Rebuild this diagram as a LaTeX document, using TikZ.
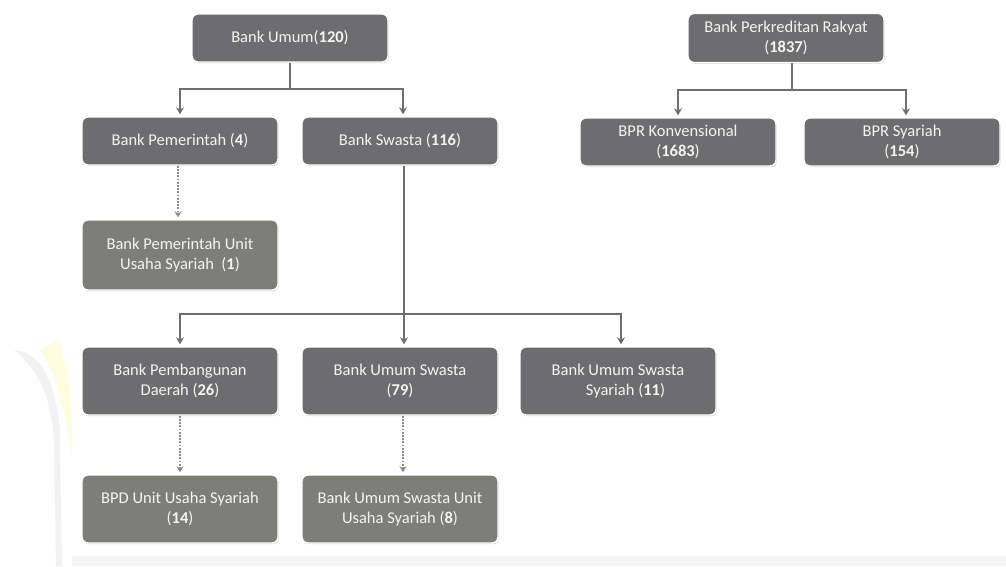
\documentclass[tikz,border=0pt]{standalone}
\usepackage{fontspec}
\setmainfont{Carlito}
\usetikzlibrary{arrows.meta,shadows}
\definecolor{boxdark}{HTML}{6D6D6F}
\definecolor{boxlight}{HTML}{7D7D79}
\definecolor{linegray}{HTML}{6E6E6E}
\definecolor{txt}{HTML}{F4F4F4}
\tikzset{
  box/.style={rectangle, rounded corners=6pt, fill=boxdark, draw=white, line width=1.4pt,
    text=txt, align=center, inner sep=0pt, minimum width=196pt,
    font=\fontsize{16.5}{19.5}\selectfont,
    drop shadow={shadow xshift=0.8pt, shadow yshift=-1.2pt, opacity=0.35, fill=gray}},
  boxl/.style={box, fill=boxlight},
  ln/.style={draw=linegray, line width=1.8pt},
  arr/.style={ln, -{Stealth[length=7pt,width=8pt]}, shorten >=2pt},
  dotarr/.style={draw=linegray!80, line width=1.1pt, dash pattern=on 1.8pt off 1.4pt,
    -{Stealth[length=6pt,width=7pt]}, shorten >=2pt},
}
\begin{document}
\begin{tikzpicture}[x=1pt,y=-1pt]
\useasboundingbox (0,0) rectangle (1006,566);
% faint background watermark / page edge
\fill[gray!8] (72,556) rectangle (1006,566);
\fill[yellow!12] (58,340) .. controls (66,360) and (70,380) .. (72,420) -- (72,460) .. controls (66,420) and (60,380) .. (40,350) -- cycle;
\fill[gray!10] (14,350) .. controls (40,352) and (55,380) .. (60,430) -- (62,566) -- (56,566) -- (54,440) .. controls (50,390) and (36,368) .. (14,350) -- cycle;

% nodes
\node[box, minimum height=48pt] (bu) at (290,38) {Bank Umum(\textbf{120})};
\node[box, minimum height=48pt] (bp) at (180,141) {Bank Pemerintah (\textbf{4})};
\node[box, minimum height=48pt] (bs) at (400,141) {Bank Swasta (\textbf{116})};
\node[boxl, minimum height=70pt] (bpu) at (180,255) {Bank Pemerintah Unit\\Usaha Syariah\ \ (\textbf{1})};

\node[box, minimum height=49pt] (bpr) at (786,38) {Bank Perkreditan Rakyat\\(\textbf{1837})};
\node[box, minimum height=48pt] (bk) at (678,142) {BPR Konvensional\\(\textbf{1683})};
\node[box, minimum height=48pt] (bsy) at (902,142) {BPR Syariah\\(\textbf{154})};

\node[box, minimum height=68pt] (bpd) at (180,381) {Bank Pembangunan\\Daerah (\textbf{26})};
\node[box, minimum height=68pt] (bus) at (400,381) {Bank Umum Swasta\\(\textbf{79})};
\node[box, minimum height=68pt] (buss) at (618,381) {Bank Umum Swasta\\\ \ \ \ Syariah (\textbf{11})};

\node[boxl, minimum height=68pt] (bpdu) at (180,509) {BPD Unit Usaha Syariah\\(\textbf{14})};
\node[boxl, minimum height=68pt] (busu) at (400,509) {Bank Umum Swasta Unit\\Usaha Syariah (\textbf{8})};

% connectors
\coordinate (j1) at (290,89);
\draw[ln] (bu.south) -- (j1);
\draw[arr] (j1) -| (bp.north);
\draw[arr] (j1) -| ([xshift=3pt]bs.north);

\coordinate (j2) at (792,90);
\draw[ln] ([xshift=6pt]bpr.south) -- (j2);
\draw[arr] (j2) -| (bk.north);
\draw[arr] (j2) -| ([xshift=4pt]bsy.north);

\coordinate (j3) at (404,314);
\draw[ln] ([xshift=4pt]bs.south) -- (j3);
\draw[arr] (j3) -| (bpd.north);
\draw[arr] (j3) -- ([xshift=4pt]bus.north);
\draw[arr] (j3) -| ([xshift=3pt]buss.north);

\draw[dotarr] ([xshift=-2pt]bp.south) -- ([xshift=-2pt]bpu.north);
\draw[dotarr] (bpd.south) -- (bpdu.north);
\draw[dotarr] ([xshift=3pt]bus.south) -- ([xshift=3pt]busu.north);
\end{tikzpicture}
\end{document}
